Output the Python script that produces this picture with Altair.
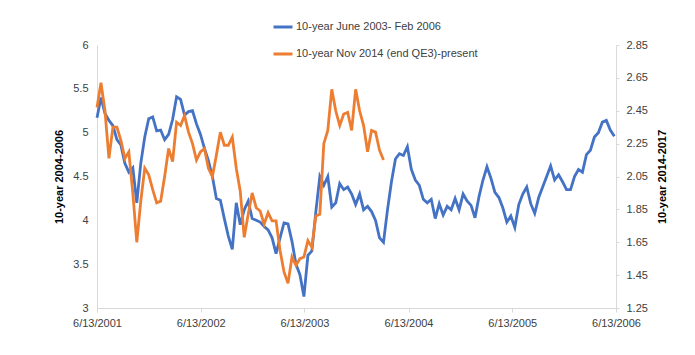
import altair as alt
import pandas as pd

# Biweekly readings, starting 6/13/2001
start_date = "2001-06-13"
blue_name = "10-year June 2003- Feb 2006"
orange_name = "10-year Nov 2014 (end QE3)-present"

blue_values = [
    5.17, 5.40, 5.22, 5.14, 5.08, 4.92, 4.86, 4.65, 4.55, 4.60,
    4.20, 4.65, 4.95, 5.16, 5.18, 5.02, 5.03, 4.92, 4.98, 5.15,
    5.41, 5.38, 5.20, 5.24, 5.25, 5.10, 4.98, 4.82, 4.68, 4.50,
    4.25, 4.23, 4.02, 3.82, 3.67, 4.20, 3.95, 4.12, 4.22, 4.02,
    4.00, 3.98, 3.93, 3.89, 3.80, 3.62, 3.80, 3.97, 3.96, 3.76,
    3.50, 3.38, 3.13, 3.60, 3.65, 4.10, 4.50, 4.40, 4.50, 4.15,
    4.20, 4.42, 4.35, 4.38, 4.30, 4.18, 4.30, 4.12, 4.16, 4.10,
    4.00, 3.80, 3.75, 4.12, 4.44, 4.70, 4.76, 4.74, 4.84, 4.58,
    4.46, 4.40, 4.24, 4.20, 4.24, 4.02, 4.19, 4.06, 4.16, 4.12,
    4.25, 4.12, 4.30, 4.22, 4.17, 4.03, 4.27, 4.46, 4.61, 4.48,
    4.32, 4.26, 4.14, 3.98, 4.05, 3.92, 4.18, 4.30, 4.38, 4.19,
    4.08, 4.26, 4.38, 4.50, 4.62, 4.46, 4.52, 4.44, 4.35, 4.35,
    4.50, 4.58, 4.55, 4.75, 4.80, 4.95, 5.00, 5.12, 5.14, 5.03, 4.96,
]

orange_values = [
    2.47, 2.62, 2.45, 2.16, 2.35, 2.35, 2.27, 2.16, 2.20, 1.95,
    1.65, 1.90, 2.10, 2.06, 1.97, 1.89, 1.90, 2.05, 2.22, 2.14,
    2.38, 2.36, 2.42, 2.32, 2.25, 2.15, 2.20, 2.22, 2.10, 2.05,
    2.18, 2.32, 2.24, 2.24, 2.29, 2.10, 1.96, 1.68, 1.82, 1.95,
    1.86, 1.84, 1.76, 1.83, 1.78, 1.78, 1.60, 1.47, 1.40, 1.56,
    1.51, 1.55, 1.56, 1.66, 1.62, 1.81, 1.82, 2.25, 2.33, 2.58,
    2.45, 2.36, 2.43, 2.44, 2.33, 2.58, 2.45, 2.36, 2.20, 2.33,
    2.32, 2.21, 2.15,
]

x_tick_years = [2001, 2002, 2003, 2004, 2005, 2006]
left_ticks = [3, 3.5, 4, 4.5, 5, 5.5, 6]
right_ticks = [1.25, 1.45, 1.65, 1.85, 2.05, 2.25, 2.45, 2.65, 2.85]


def dates(n):
    d = pd.date_range(start_date, periods=n, freq="14D")
    return [x.strftime("%Y-%m-%dT00:00:00") for x in d]


blue_df = pd.DataFrame({"date": dates(len(blue_values)), "value": blue_values, "series": blue_name})
orange_df = pd.DataFrame({"date": dates(len(orange_values)), "value": orange_values, "series": orange_name})

FONT = "Liberation Sans"
FS = 11
txt = "#404040"
axis_grey = "#d9d9d9"

x_vals = [alt.DateTime(year=y, month=6, date=13) for y in x_tick_years]
x_enc = alt.X(
    "date:T",
    scale=alt.Scale(domain=[x_vals[0], x_vals[-1]]),
    axis=alt.Axis(
        values=x_vals, format="%-m/%-d/%Y", title=None, grid=False,
        labelFont=FONT, labelFontSize=FS, labelColor=txt, labelFlush=False,
        domainColor=axis_grey, tickColor=axis_grey, tickSize=4, labelPadding=5,
        labelOverlap=False, labelBound=False,
    ),
)

color_enc = alt.Color(
    "series:N",
    scale=alt.Scale(domain=[blue_name, orange_name], range=["#4472C4", "#ED7D31"]),
    legend=alt.Legend(
        orient="none", legendX=175, legendY=-29, direction="vertical", title=None,
        symbolType="stroke", symbolStrokeWidth=3, symbolSize=361,
        labelFont=FONT, labelFontSize=FS, labelColor=txt, rowPadding=10,
        labelOffset=2, labelLimit=400,
    ),
)

blue = alt.Chart(blue_df).mark_line(strokeWidth=2.8).encode(
    x=x_enc,
    y=alt.Y(
        "value:Q",
        scale=alt.Scale(domain=[3, 6], nice=False, zero=False),
        axis=alt.Axis(
            orient="left", values=left_ticks, format=".2~f", title="10-year 2004-2006",
            grid=False, ticks=False, labelFont=FONT, labelFontSize=FS, labelColor=txt,
            labelPadding=9, domainColor=axis_grey, titleFont=FONT, titleFontSize=FS,
            titleFontWeight="bold", titleColor="#000000", titlePadding=8,
        ),
    ),
    color=color_enc,
)

orange = alt.Chart(orange_df).mark_line(strokeWidth=2.8).encode(
    x=x_enc,
    y=alt.Y(
        "value:Q",
        scale=alt.Scale(domain=[1.25, 2.85], nice=False, zero=False),
        axis=alt.Axis(
            orient="right", values=right_ticks, format=".2f", title="10-year 2014-2017",
            grid=False, ticks=True, tickSize=3, tickColor=axis_grey,
            labelFont=FONT, labelFontSize=FS, labelColor=txt,
            labelPadding=7, domainColor=axis_grey, titleFont=FONT, titleFontSize=FS,
            titleFontWeight="bold", titleColor="#000000", titleAngle=270, titlePadding=20,
        ),
    ),
    color=color_enc,
)

chart = (
    alt.layer(blue, orange)
    .resolve_scale(y="independent")
    .properties(
        width=519, height=263, autosize="none",
        padding={"left": 89, "top": 37, "right": 71, "bottom": 39},
        background="white",
    )
    .configure_view(stroke=None)
)

chart.save("out.html", embed_options={"renderer": "svg", "actions": False})
